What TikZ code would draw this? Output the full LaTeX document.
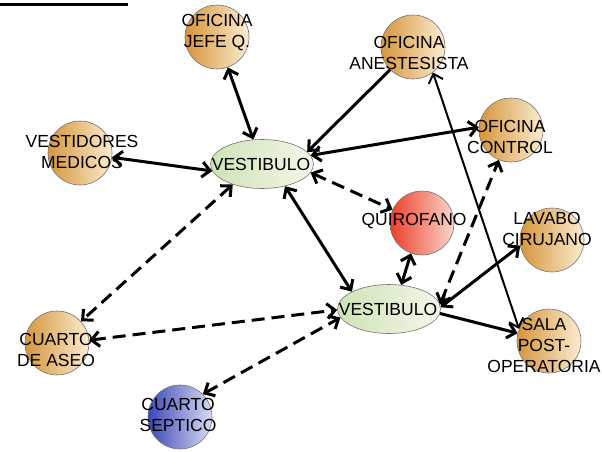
\documentclass[tikz,border=0pt]{standalone}
\usepackage{fontspec}
\setmainfont{Liberation Sans}
\usetikzlibrary{arrows.meta,shapes.geometric}

\definecolor{goldL}{RGB}{214,150,60}
\definecolor{goldR}{RGB}{250,236,208}
\definecolor{redL}{RGB}{236,62,40}
\definecolor{redR}{RGB}{250,215,205}
\definecolor{blueL}{RGB}{62,72,182}
\definecolor{blueR}{RGB}{215,220,242}
\definecolor{greenL}{RGB}{208,226,182}
\definecolor{greenR}{RGB}{242,247,234}

\begin{document}
\begin{tikzpicture}[x=1pt,y=-1pt,
  room/.style={circle, draw=black!55, line width=0.6pt, minimum size=64pt, inner sep=0pt},
  office/.style={room, left color=goldL, right color=goldR},
  surgery/.style={room, left color=redL, right color=redR},
  septic/.style={room, left color=blueL, right color=blueR},
  hall/.style={ellipse, draw=black!55, line width=0.6pt, minimum width=103pt,
    minimum height=49pt, inner sep=0pt, left color=greenL, right color=greenR},
  caption/.style={align=center, inner sep=0pt, font=\fontsize{17.5}{21}\selectfont},
  tip/.tip={Straight Barb[length=8pt,width=15pt]},
  link/.style={line width=3pt, tip-tip},
  oneway/.style={line width=3pt, -tip},
  dashlink/.style={link, dash pattern=on 13pt off 7pt},
  thinlink/.style={line width=2pt, tip-tip},
]
\useasboundingbox[fill=white] (0,0) rectangle (602,452);

% heading rule
\draw[line width=3pt] (0,5) -- coordinate (rule) (128,5);

% rooms
\node[office]  (jefe)    at (217,37)  {};
\node[office]  (anest)   at (413,47)  {};
\node[office]  (control) at (511,130) {};
\node[office]  (vest)    at (80,153)  {};
\node[surgery] (quiro)   at (422,223) {};
\node[office]  (lavabo)  at (552,240) {};
\node[office]  (sala)    at (549,341) {};
\node[office]  (aseo)    at (57,343)  {};
\node[septic]  (septico) at (180,417) {};
\node[hall]    (vtop)    at (262,164) {};
\node[hall]    (vbot)    at (389,309) {};

% connections
\draw[link]     (jefe) -- (vtop);
\draw[oneway]   (anest) -- (vtop.15);
\draw[link]     (vtop.10) -- (control.175);
\draw[link]     (vest) -- (vtop.188);
\draw[dashlink] (vtop.-10) -- (quiro);
\draw[link]     (vtop.-44) -- (vbot.155);
\draw[dashlink] (vtop.215) -- (aseo);
\draw[dashlink] (aseo.5) -- (vbot.181);
\draw[dashlink] (septico.45) -- (vbot.190);
\draw[link]     (quiro.250) -- (vbot.63);
\draw[dashlink] (vbot.5) -- (control.248);
\draw[link]     (vbot.2) -- (lavabo.190);
\draw[oneway]   (vbot.-5) -- (sala.166);
\draw[thinlink] (sala.158) -- (anest.-52);

% room names
\node[caption] (vtop-t)    at (261,164) {VESTIBULO};
\node[caption] (vbot-t)    at (388,309) {VESTIBULO};
\node[caption] (jefe-t)    at (217,33)  {OFICINA\\JEFE Q.};
\node[caption] (anest-t)   at (409,53)  {OFICINA\\ANESTESISTA};
\node[caption] (control-t) at (510,137) {OFICINA\\CONTROL};
\node[caption] (vest-t)    at (82,152)  {VESTIDORES\\MEDICOS};
\node[caption] (quiro-t)   at (414,221) {QUIROFANO};
\node[caption] (lavabo-t)  at (547,229) {LAVABO\\CIRUJANO};
\node[caption] (sala-t)    at (544,345) {SALA\\POST-\\OPERATORIA};
\node[caption] (aseo-t)    at (56,350)  {CUARTO\\DE ASEO};
\node[caption] (septico-t) at (178,415) {CUARTO\\SEPTICO};
\end{tikzpicture}
\end{document}
